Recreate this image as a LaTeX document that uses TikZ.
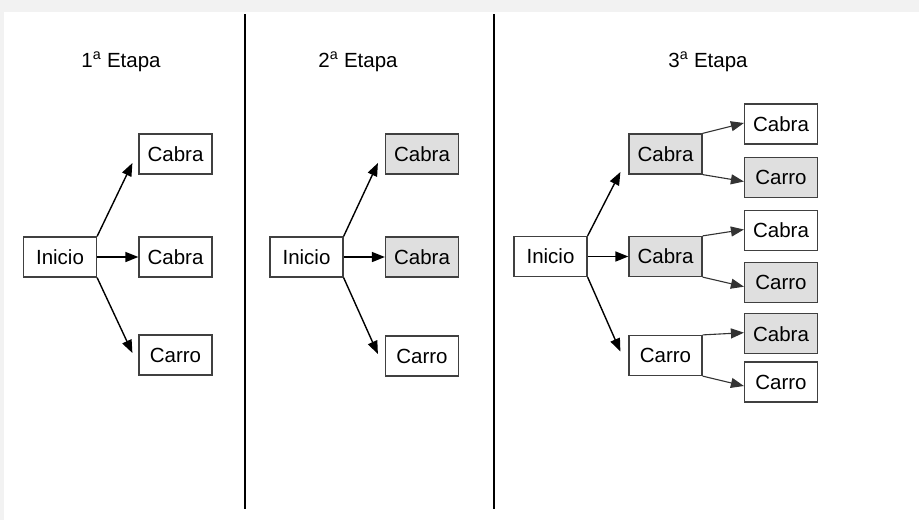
\documentclass[tikz,border=0pt]{standalone}
\usepackage{fontspec}
\setmainfont{Liberation Sans}
\usetikzlibrary{arrows.meta}
\begin{document}
\begin{tikzpicture}[x=1pt,y=-1pt,
  box/.style={draw=black!75, line width=1.2pt, minimum width=73pt, minimum height=40pt,
    inner sep=0pt, fill=white, font=\fontsize{20.5}{24}\selectfont},
  shaded/.style={box, fill=gray!25},
  ttl/.style={font=\fontsize{20.5}{24}\selectfont, inner sep=0pt},
  fan/.style={line width=1.4pt, -{Triangle[length=13pt,width=10pt]}},
  leaf/.style={line width=1.1pt, draw=black!80, -{Triangle[length=13pt,width=10pt]}},
  divider/.style={line width=1.3pt}]
% background
\fill[black!5] (0,0) rectangle (919,520);
\fill[white] (4,12) rectangle (919,520);
\useasboundingbox (0,0) rectangle (919,520);
% dividers
\draw[divider] (245,14) -- (245,509);
\draw[divider] (494,14) -- (494,509);
% titles
\node[ttl] (t1) at (121,62) {1\textsuperscript{a} Etapa};
\node[ttl] (t2) at (358,62) {2\textsuperscript{a} Etapa};
\node[ttl] (t3) at (708,62) {3\textsuperscript{a} Etapa};
% panel 1
\node[box] (in1) at (60,257) {Inicio};
\node[box] (a1) at (175.5,154) {Cabra};
\node[box] (b1) at (175.5,257) {Cabra};
\node[box] (c1) at (175.5,355) {Carro};
\draw[fan] (in1.north east) -- ([xshift=-6pt,yshift=-9pt]a1.west);
\draw[fan] (in1.east) -- (b1.west);
\draw[fan] (in1.south east) -- ([xshift=-6pt,yshift=2pt]c1.west);
% panel 2
\node[box] (in2) at (306.5,257) {Inicio};
\node[shaded] (a2) at (422,154) {Cabra};
\node[shaded] (b2) at (422,257) {Cabra};
\node[box] (c2) at (422,356) {Carro};
\draw[fan] (in2.north east) -- ([xshift=-7pt,yshift=-9pt]a2.west);
\draw[fan] (in2.east) -- (b2.west);
\draw[fan] (in2.south east) -- ([xshift=-7pt,yshift=2pt]c2.west);
% panel 3
\node[box] (in3) at (550.5,256.5) {Inicio};
\node[shaded] (A) at (665.5,154) {Cabra};
\node[shaded] (B) at (665.5,256.5) {Cabra};
\node[box] (C) at (665.5,355.5) {Carro};
\draw[fan] (in3.north east) -- ([xshift=-8pt,yshift=-18pt]A.west);
\draw[fan] (in3.east) -- (B.west);
\draw[fan] (in3.south east) -- ([xshift=-8pt,yshift=4pt]C.west);
\node[box] (r1) at (781,124) {Cabra};
\node[shaded] (r2) at (781,177.5) {Carro};
\node[box] (r3) at (781,230.5) {Cabra};
\node[shaded] (r4) at (781,282.7) {Carro};
\node[shaded] (r5) at (781,333.7) {Cabra};
\node[box] (r6) at (781,382) {Carro};
\draw[leaf] (A.north east) -- ([yshift=1pt]r1.west);
\draw[leaf] (A.south east) -- ([yshift=-4pt]r2.west);
\draw[leaf] (B.north east) -- ([yshift=1pt]r3.west);
\draw[leaf] (B.south east) -- ([yshift=-4pt]r4.west);
\draw[leaf] (C.north east) -- ([yshift=1pt]r5.west);
\draw[leaf] (C.south east) -- ([yshift=-4pt]r6.west);
\end{tikzpicture}
\end{document}
